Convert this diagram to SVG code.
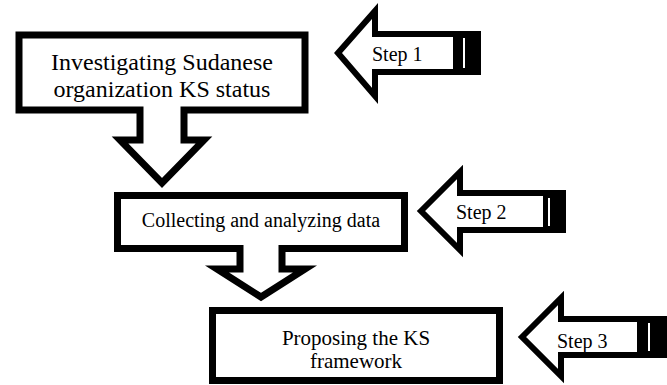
<svg xmlns="http://www.w3.org/2000/svg" width="667" height="385" viewBox="0 0 667 385">
  <style>
    .shape { fill: #fff; stroke: #000; stroke-width: 7; stroke-linejoin: miter; stroke-miterlimit: 10; }
    .step { fill: #fff; stroke: #000; stroke-width: 6; stroke-linejoin: miter; stroke-miterlimit: 10; }
    .tail { fill: #000; }
    .stripe { fill: #fff; }
    .lbl { font-family: "Liberation Serif", "Times New Roman", serif; fill: #000; text-anchor: middle; }
    .steplbl { font-family: "Liberation Serif", "Times New Roman", serif; font-size: 20px; fill: #000; }
  </style>
  <rect width="667" height="385" fill="#fff"/>

  <!-- stage 1: down-arrow callout -->
  <g id="node-investigating">
    <path class="shape" d="M19,35 H305 V110 H184 V140 H204 L162,183 L120,140 H140 V110 H19 Z"/>
    <text class="lbl" font-size="24" x="162" y="70">Investigating Sudanese</text>
    <text class="lbl" font-size="24" x="162" y="97">organization KS status</text>
  </g>

  <!-- stage 2: down-arrow callout -->
  <g id="node-collecting">
    <path class="shape" d="M117.5,195.5 H404.5 V248.5 H282 V269 H305 L261,297 L217,269 H240 V248.5 H117.5 Z"/>
    <text class="lbl" font-size="20" x="261" y="227">Collecting and analyzing data</text>
  </g>

  <!-- stage 3: plain box -->
  <g id="node-proposing">
    <rect class="shape" x="212.5" y="310.5" width="287" height="70"/>
    <text class="lbl" font-size="21" x="356" y="345">Proposing the KS</text>
    <text class="lbl" font-size="21" x="356" y="368">framework</text>
  </g>

  <!-- step markers: striped left arrows -->
  <g id="connectors">
    <g id="step-1">
      <path class="step" d="M338,53 L375,11 V34 H478 V72 H375 V96 Z"/>
      <rect class="tail" x="453" y="31" width="28" height="44"/>
      <rect class="stripe" x="463" y="38" width="2" height="30"/>
      <text class="steplbl" x="372" y="61">Step 1</text>
    </g>
    <g id="step-2">
      <path class="step" d="M421,211 L460,172 V193 H563 V230 H460 V250 Z"/>
      <rect class="tail" x="543" y="190" width="23" height="43"/>
      <rect class="stripe" x="548" y="198" width="2" height="28"/>
      <text class="steplbl" x="456" y="219">Step 2</text>
    </g>
    <g id="step-3">
      <path class="step" d="M522,337 L561,298 V319 H670 V355 H561 V376 Z"/>
      <rect class="tail" x="637" y="316" width="32" height="42"/>
      <rect class="stripe" x="648" y="323" width="2" height="28"/>
      <text class="steplbl" x="557" y="348">Step 3</text>
    </g>
  </g>
</svg>
